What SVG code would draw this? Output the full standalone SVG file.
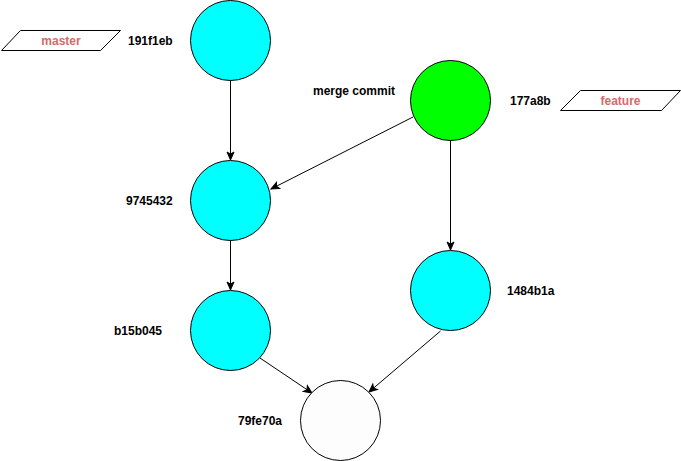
<svg xmlns="http://www.w3.org/2000/svg" width="681" height="461" viewBox="0 0 681 461">
<style>
.c{stroke:#000;stroke-width:1}
.cy{fill:#00FFFF}
.lbl{font-family:"Liberation Sans",Arial,sans-serif;font-size:12px;font-weight:bold;fill:#000}
.tag{font-family:"Liberation Sans",Arial,sans-serif;font-size:12px;font-weight:bold;fill:#D46A6A;text-anchor:middle}
.br{fill:#fff;stroke:#000;stroke-width:1}
.e{stroke:#000;stroke-width:1;fill:none;marker-end:url(#a)}
</style>
<defs>
<marker id="a" markerUnits="userSpaceOnUse" markerWidth="10" markerHeight="10" viewBox="0 0 10 10" refX="9" refY="5" orient="auto">
<path d="M1,1.5 L9,5 L1,8.5 L3,5 Z" fill="#000" stroke="#000" stroke-width="1"/>
</marker>
</defs>
<rect width="681" height="461" fill="#fff"/>
<g id="edges">
<line class="e" x1="230.5" y1="80" x2="230.5" y2="160"/>
<line class="e" x1="413" y1="117" x2="271" y2="189"/>
<line class="e" x1="450.5" y1="140" x2="450.5" y2="250"/>
<line class="e" x1="230.5" y1="240" x2="230.5" y2="290"/>
<line class="e" x1="260" y1="358" x2="312" y2="393"/>
<line class="e" x1="440.5" y1="331" x2="369" y2="392"/>
</g>
<g id="master">
<polygon class="br" points="1.5,50.5 20.5,30.5 120.5,30.5 100.5,50.5"/>
<text class="tag" x="61" y="45">master</text>
</g>
<g id="feature">
<polygon class="br" points="560.5,110.5 580.5,90.5 680.5,90.5 661.5,110.5"/>
<text class="tag" x="620.5" y="105">feature</text>
</g>
<g id="n191f1eb">
<circle class="c cy" cx="230.5" cy="40.5" r="40"/>
<text class="lbl" x="128" y="45">191f1eb</text>
</g>
<g id="n177a8b">
<circle class="c" fill="#00FF00" cx="450.5" cy="100.5" r="40"/>
<text class="lbl" x="313" y="95">merge commit</text>
<text class="lbl" x="510" y="105">177a8b</text>
</g>
<g id="n9745432">
<circle class="c cy" cx="230.5" cy="200.5" r="40"/>
<text class="lbl" x="126" y="205">9745432</text>
</g>
<g id="nb15b045">
<circle class="c cy" cx="230.5" cy="330.5" r="40"/>
<text class="lbl" x="114" y="335">b15b045</text>
</g>
<g id="n1484b1a">
<circle class="c cy" cx="450.5" cy="290.5" r="40"/>
<text class="lbl" x="507" y="295">1484b1a</text>
</g>
<g id="n79fe70a">
<circle class="c" fill="#FDFDFD" cx="340.5" cy="420.5" r="40"/>
<text class="lbl" x="238" y="425">79fe70a</text>
</g>
</svg>
